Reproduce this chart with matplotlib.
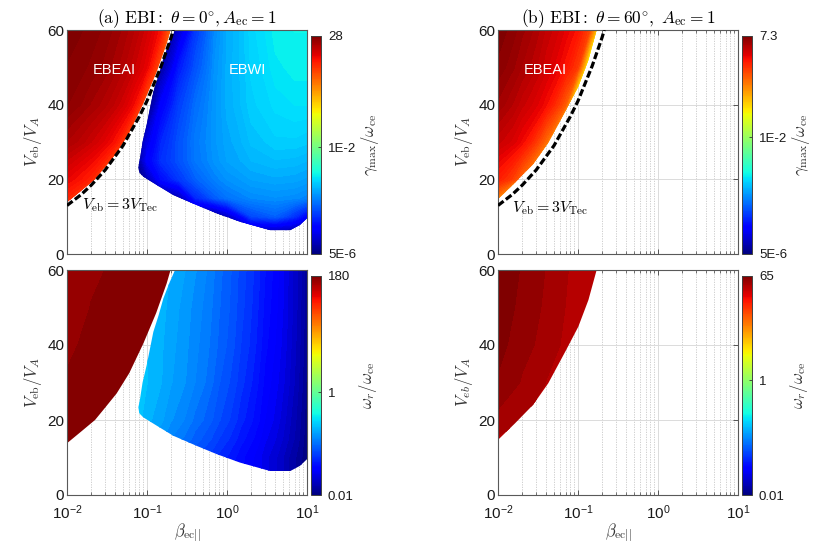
import numpy as np
import matplotlib
matplotlib.use('Agg')
import matplotlib.pyplot as plt
from matplotlib.patches import Polygon
from matplotlib.colors import Normalize
from matplotlib.cm import ScalarMappable
from matplotlib.ticker import LogLocator, NullFormatter

plt.rcParams['font.family'] = ['Liberation Sans', 'DejaVu Sans']
plt.rcParams['mathtext.fontset'] = 'cm'

# ---------------- data ----------------
# dashed curve V_eb = 3 V_Tec
dash_beta = [0.01, 0.015, 0.02, 0.03, 0.05, 0.08, 0.1, 0.15, 0.2, 0.213]
dash_V = [13.0, 15.9, 18.4, 22.5, 29.0, 36.8, 41.0, 50.3, 58.0, 60.0]

# EBEAI region boundary (theta = 0)
ea0_bnd_beta = [0.01, 0.01, 0.015, 0.0224, 0.03, 0.0418, 0.06, 0.09, 0.13, 0.176, 0.197]
ea0_bnd_V = [60.0, 13.8, 16.9, 20.0, 23.3, 27.1, 32.5, 40.4, 48.5, 56.4, 60.0]

# EBWI region boundary (theta = 0)
wi0_bnd_beta = [0.224, 0.19, 0.16, 0.14, 0.12, 0.099, 0.088, 0.0818, 0.078, 0.08, 0.09,
                0.132, 0.213, 0.418, 0.743, 1.45, 3.45, 6.2, 8.2, 10.0, 10.0]
wi0_bnd_V = [60.0, 56.5, 52.4, 48.0, 43.5, 34.6, 30.0, 25.6, 23.4, 21.8, 20.7,
             18.5, 15.8, 13.1, 10.9, 8.65, 6.4, 6.4, 7.8, 9.55, 60.0]

# EBEAI region boundary (theta = 60)
ea60_bnd_beta = [0.01, 0.01, 0.0163, 0.0276, 0.0425, 0.07, 0.101, 0.135, 0.171]
ea60_bnd_V = [60.0, 14.7, 19.1, 24.1, 29.8, 38.4, 44.9, 52.0, 60.0]

# (a) gamma_max, EBEAI
g0_ea_beta = [0.01, 0.02, 0.04, 0.07, 0.1, 0.15, 0.2, 0.25]
g0_ea_V = [10, 15, 20, 30, 40, 50, 60]
g0_ea = [
    [1.5, 0.5, 0.1, 0.05, 0.05, 0.05, 0.05, 0.05],
    [3.8, 1.5, 0.3, 0.05, 0.05, 0.05, 0.05, 0.05],
    [6.5, 3.8, 0.8, 0.1, 0.05, 0.05, 0.05, 0.05],
    [15., 10., 5.0, 1.0, 0.2, 0.05, 0.05, 0.05],
    [23., 17., 11., 5.5, 1.5, 0.2, 0.05, 0.05],
    [26., 22., 16., 10., 6.5, 1.5, 0.2, 0.05],
    [28., 25., 19., 13., 9.0, 5.0, 1.2, 0.2],
]

# (a) gamma_max, EBWI
g0_wi_beta = [0.07, 0.1, 0.15, 0.25, 0.4, 0.7, 1.0, 2.0, 4.0, 7.0, 10.0]
g0_wi_V = [5, 10, 15, 20, 25, 30, 40, 50, 60]
g0_wi = [
    [5e-6, 5e-6, 5e-6, 5e-6, 5e-6, 5e-6, 5e-6, 5e-6, 5e-6, 5e-6, 5e-6],
    [5e-6, 5e-6, 5e-6, 5e-6, 5e-6, 5e-6, 1.2e-5, 1e-4, 1.5e-4, 7e-5, 3e-5],
    [5e-6, 5e-6, 5e-6, 1e-5, 6e-5, 1.4e-4, 2e-4, 2.8e-4, 3.1e-4, 2.9e-4, 2.5e-4],
    [5e-6, 1e-5, 4e-5, 8e-5, 1.5e-4, 2.5e-4, 3.2e-4, 4.2e-4, 4.6e-4, 4.4e-4, 4e-4],
    [5e-6, 3e-5, 7e-5, 1.2e-4, 2.1e-4, 3.3e-4, 4.2e-4, 5.5e-4, 6.2e-4, 6e-4, 5.5e-4],
    [5e-6, 2e-5, 6e-5, 1.2e-4, 2.2e-4, 3.5e-4, 4.5e-4, 6.5e-4, 8e-4, 8e-4, 7.5e-4],
    [5e-6, 5e-6, 3e-5, 9e-5, 1.8e-4, 3.5e-4, 5e-4, 8e-4, 1.0e-3, 1.1e-3, 1.1e-3],
    [5e-6, 5e-6, 8e-6, 5e-5, 1.2e-4, 3.2e-4, 5e-4, 8.5e-4, 1.2e-3, 1.35e-3, 1.35e-3],
    [5e-6, 5e-6, 5e-6, 1.5e-5, 8e-5, 2.8e-4, 4.8e-4, 9e-4, 1.35e-3, 1.45e-3, 1.45e-3],
]

# (b) gamma_max, EBEAI
g60_beta = [0.01, 0.015, 0.02, 0.04, 0.07, 0.1, 0.14, 0.18, 0.22]
g60_V = [10, 15, 20, 30, 40, 50, 60]
g60 = [
    [0.01, 1e-3, 1e-3, 1e-3, 1e-3, 1e-3, 1e-3, 1e-3, 1e-3],
    [0.3, 0.05, 0.01, 1e-3, 1e-3, 1e-3, 1e-3, 1e-3, 1e-3],
    [1.3, 0.8, 0.4, 0.01, 1e-3, 1e-3, 1e-3, 1e-3, 1e-3],
    [3.0, 2.4, 1.8, 0.4, 0.01, 1e-3, 1e-3, 1e-3, 1e-3],
    [4.8, 3.8, 3.0, 1.7, 0.5, 0.01, 1e-3, 1e-3, 1e-3],
    [6.3, 5.2, 4.3, 2.6, 1.5, 0.8, 0.02, 5e-3, 1e-3],
    [7.3, 6.2, 5.2, 3.2, 2.1, 1.5, 0.7, 0.06, 0.01],
]

# (a) omega_r, EBEAI
w0_ea_beta = [0.01, 0.02, 0.05, 0.1, 0.2, 0.25]
w0_ea_V = [10, 20, 30, 40, 50, 60]
w0_ea = [
    [166, 173, 179, 180, 180, 180],
    [163, 170, 177, 180, 180, 180],
    [160, 166, 174, 179, 180, 180],
    [156, 163, 171, 177, 180, 180],
    [152, 159, 168, 175, 179, 180],
    [148, 156, 164, 172, 178, 180],
]

# (a) omega_r, EBWI
w0_wi_beta = [0.07, 0.1, 0.2, 0.4, 0.8, 1.5, 3.0, 6.0, 10.0]
w0_wi_V = [5, 10, 15, 20, 30, 40, 50, 60]
w0_wi = [
    [0.18, 0.15, 0.10, 0.07, 0.050, 0.036, 0.024, 0.015, 0.0100],
    [0.18, 0.15, 0.10, 0.07, 0.050, 0.036, 0.024, 0.015, 0.0100],
    [0.20, 0.17, 0.12, 0.085, 0.060, 0.042, 0.027, 0.017, 0.0103],
    [0.23, 0.19, 0.14, 0.10, 0.070, 0.048, 0.030, 0.018, 0.0105],
    [0.25, 0.21, 0.16, 0.12, 0.080, 0.055, 0.033, 0.020, 0.0110],
    [0.25, 0.21, 0.165, 0.125, 0.088, 0.060, 0.036, 0.021, 0.0115],
    [0.26, 0.22, 0.17, 0.13, 0.092, 0.063, 0.038, 0.022, 0.0118],
    [0.26, 0.23, 0.18, 0.14, 0.095, 0.065, 0.040, 0.022, 0.0120],
]

# (b) omega_r, EBEAI
w60_beta = [0.01, 0.02, 0.04, 0.08, 0.15, 0.2]
w60_V = [10, 14, 20, 30, 40, 50, 60]
w60 = [
    [42, 41, 40, 40, 40, 40],
    [44, 42.5, 40.5, 40, 40, 40],
    [50, 46, 42, 40, 40, 40],
    [59.5, 51.5, 45.5, 41.5, 40, 40],
    [62.5, 55.5, 48.5, 43, 40, 40],
    [64, 58, 50.5, 44, 40.5, 40],
    [65, 59.5, 52, 45, 41, 40],
]

# colour bar ranges and tick labels
cb_ranges = {'g0': (5e-6, 28), 'g60': (5e-6, 7.3), 'w0': (0.01, 180), 'w60': (0.01, 65)}
cb_ticks = {'g0': [5e-6, 1e-2, 28], 'g60': [5e-6, 1e-2, 7.3],
            'w0': [0.01, 1, 180], 'w60': [0.01, 1, 65]}
cb_labels = {'g0': ['5E-6', '1E-2', '28'], 'g60': ['5E-6', '1E-2', '7.3'],
             'w0': ['0.01', '1', '180'], 'w60': ['0.01', '1', '65']}

# ---------------- figure ----------------
fig = plt.figure(figsize=(8.3, 5.46), dpi=100)
W, H = 830.0, 546.0


def px_axes(x0, y0, x1, y1):
    return fig.add_axes([x0 / W, 1 - y1 / H, (x1 - x0) / W, (y1 - y0) / H])


STEP = 0.06
DASH = (0, (2.2, 0.9))


def region(ax, beta, V, Z, pb, pv, rng):
    lo, hi = np.log10(rng[0]), np.log10(rng[1])
    lz = np.log10(np.array(Z, dtype=float))
    levels = np.arange(lo, hi + STEP, STEP)
    cs = ax.contourf(beta, V, lz, levels=levels, cmap='jet',
                     norm=Normalize(lo, hi), zorder=2, extend='both',
                     antialiased=False)
    patch = Polygon(np.column_stack([pb, pv]), closed=True,
                    transform=ax.transData, facecolor='none', edgecolor='none')
    cs.set_clip_path(patch)
    return cs


def style_axes(ax, bottom_labels):
    ax.set_xscale('log')
    ax.set_xlim(0.01, 10)
    ax.set_ylim(0, 60)
    ax.set_yticks([0, 20, 40, 60])
    ax.xaxis.set_minor_locator(LogLocator(base=10, subs=np.arange(2, 10), numticks=20))
    ax.xaxis.set_minor_formatter(NullFormatter())
    ax.set_axisbelow(True)
    ax.grid(True, which='major', color='0.86', lw=0.7, ls='-')
    ax.grid(True, which='minor', axis='x', color='0.78', lw=0.6, ls=(0, (1.5, 1.5)))
    ax.tick_params(which='both', direction='in', top=True, right=True,
                   color='0.25', labelsize=11, labelcolor='0.1', pad=2)
    ax.tick_params(axis='x', which='major', pad=6)
    ax.tick_params(which='major', length=3.5, width=0.6)
    ax.tick_params(which='minor', length=2, width=0.5)
    for s in ax.spines.values():
        s.set_color('0.35')
        s.set_linewidth(0.8)
    if not bottom_labels:
        ax.tick_params(labelbottom=False)
    else:
        ax.set_xlabel(r'$\beta_{\rm ec||}$', fontsize=12, labelpad=0, color='0.2')


def add_cbar(rect, key, label):
    cax = px_axes(*rect)
    lo, hi = np.log10(cb_ranges[key][0]), np.log10(cb_ranges[key][1])
    sm = ScalarMappable(norm=Normalize(lo, hi), cmap='jet')
    cb = fig.colorbar(sm, cax=cax)
    cb.set_ticks(np.log10(cb_ticks[key]))
    cb.set_ticklabels(cb_labels[key])
    cb.outline.set_edgecolor('0.25')
    cb.outline.set_linewidth(0.7)
    cax.tick_params(direction='in', length=2.5, width=0.6, labelsize=9.5,
                    labelcolor='0.1', color='0.2', pad=5)
    cb.set_label(label, fontsize=12, rotation=90, labelpad=2, color='0.2')
    return cb


ylab = r'$V_{\rm eb}/V_{A}$'

# (a) top
ax1 = px_axes(67, 30, 307, 254)
region(ax1, g0_ea_beta, g0_ea_V, g0_ea, ea0_bnd_beta, ea0_bnd_V, cb_ranges['g0'])
region(ax1, g0_wi_beta, g0_wi_V, g0_wi, wi0_bnd_beta, wi0_bnd_V, cb_ranges['g0'])
ax1.plot(dash_beta, dash_V, color='k', lw=2.3, ls=DASH, zorder=4)
style_axes(ax1, False)
ax1.set_ylabel(ylab, fontsize=12, labelpad=2, color='0.2')
ax1.set_title(r'$\mathrm{(a)\ EBI{:}}\ \theta=0^{\circ},A_{\rm ec}=1$', fontsize=12.5, pad=1.5)
ax1.text(0.0387, 49.3, 'EBEAI', color='white', fontsize=10.5, ha='center', va='center', zorder=5)
ax1.text(1.78, 49.3, 'EBWI', color='white', fontsize=10.5, ha='center', va='center', zorder=5)
ax1.text(0.0153, 13.0, r'$V_{\rm eb}=3V_{\rm Tec}$', color='k', fontsize=11.5, ha='left', va='center', zorder=5)
add_cbar((311, 36, 321, 254), 'g0', r'$\gamma_{\max}/\omega_{\rm ce}$')

# (b) top
ax2 = px_axes(498, 30, 738, 254)
region(ax2, g60_beta, g60_V, g60, ea60_bnd_beta, ea60_bnd_V, cb_ranges['g60'])
ax2.plot(dash_beta, dash_V, color='k', lw=2.3, ls=DASH, zorder=4)
style_axes(ax2, False)
ax2.set_ylabel(ylab, fontsize=12, labelpad=2, color='0.2')
ax2.set_title(r'$\mathrm{(b)\ EBI{:}}\ \theta=60^{\circ},\ A_{\rm ec}=1$', fontsize=12.5, pad=1.5)
ax2.text(0.0387, 49.3, 'EBEAI', color='white', fontsize=10.5, ha='center', va='center', zorder=5)
ax2.text(0.0150, 12.3, r'$V_{\rm eb}=3V_{\rm Tec}$', color='k', fontsize=11.5, ha='left', va='center', zorder=5)
add_cbar((742, 36, 752, 254), 'g60', r'$\gamma_{\max}/\omega_{\rm ce}$')

# (a) bottom
ax3 = px_axes(67, 270, 307, 495)
region(ax3, w0_ea_beta, w0_ea_V, w0_ea, ea0_bnd_beta, ea0_bnd_V, cb_ranges['w0'])
region(ax3, w0_wi_beta, w0_wi_V, w0_wi, wi0_bnd_beta, wi0_bnd_V, cb_ranges['w0'])
style_axes(ax3, True)
ax3.set_ylabel(ylab, fontsize=12, labelpad=2, color='0.2')
add_cbar((311, 276, 321, 495), 'w0', r'$\omega_r/\omega_{\rm ce}$')

# (b) bottom
ax4 = px_axes(498, 270, 738, 495)
region(ax4, w60_beta, w60_V, w60, ea60_bnd_beta, ea60_bnd_V, cb_ranges['w60'])
style_axes(ax4, True)
ax4.set_ylabel(r'$V_{eb}/V_{A}$', fontsize=12, labelpad=2, color='0.2')
add_cbar((742, 276, 752, 495), 'w60', r'$\omega_r/\omega_{\rm ce}$')

fig.savefig('out.png', dpi=100, facecolor='white')
